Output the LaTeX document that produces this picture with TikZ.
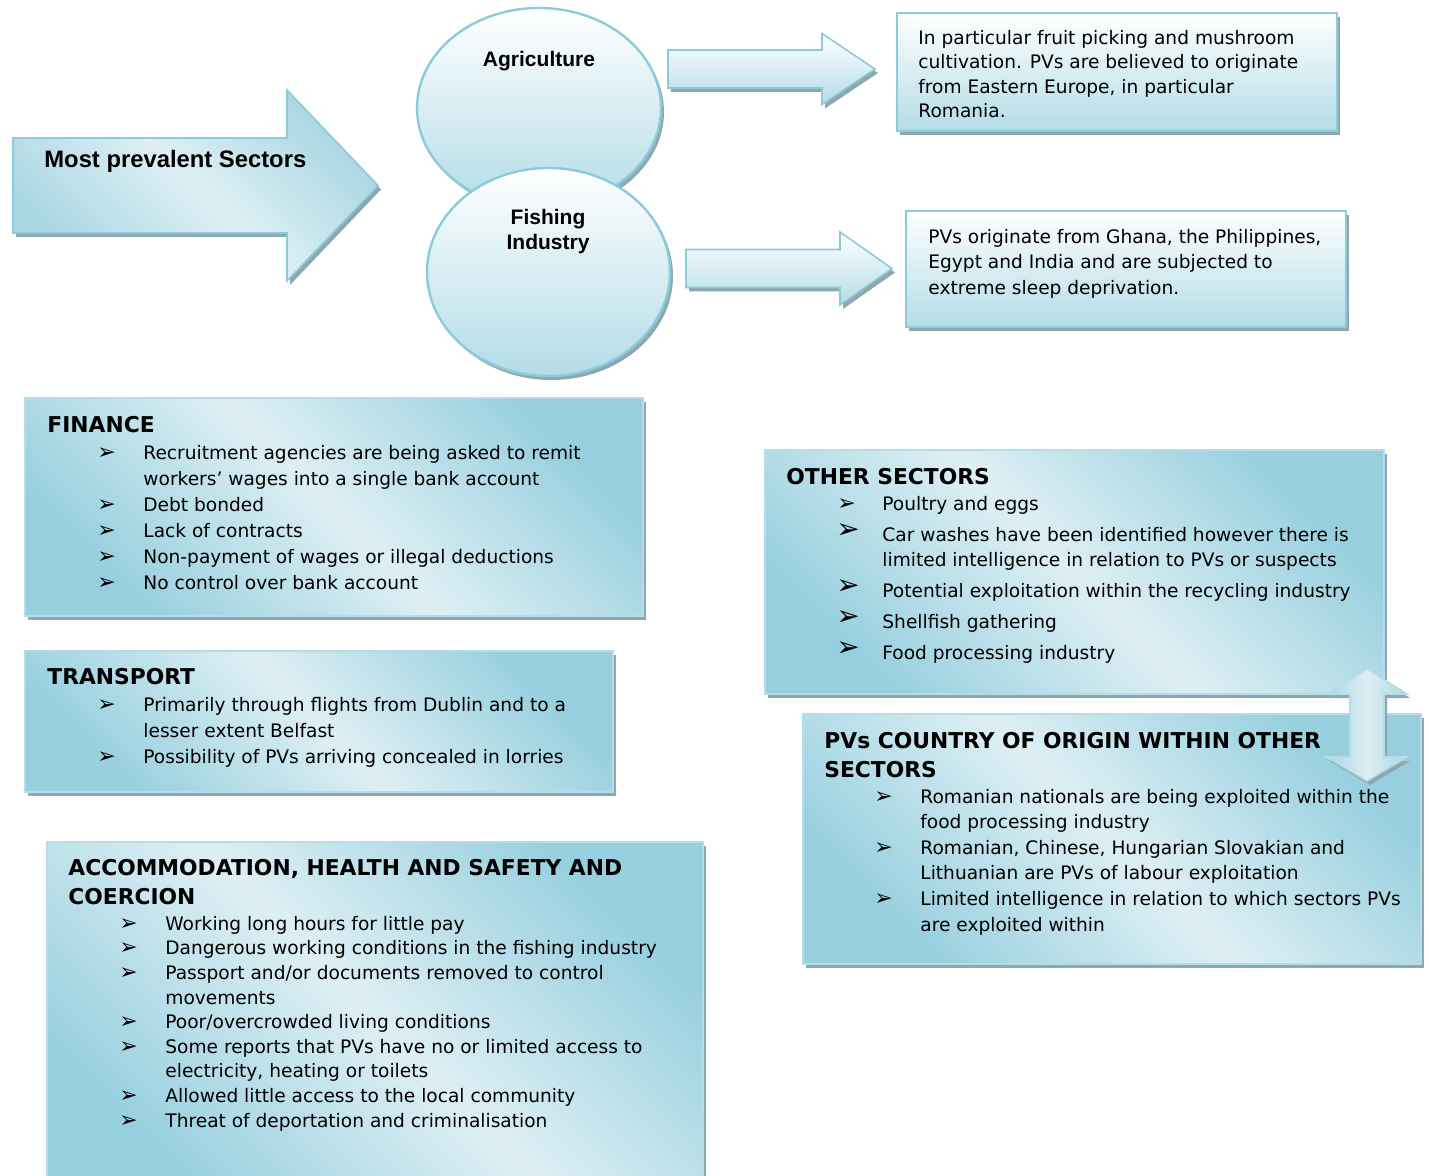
\documentclass[tikz,border=0pt]{standalone}
\usepackage{fontspec}
\setmainfont{DejaVu Sans}
\newfontfamily\arrfont{Liberation Sans}
\usetikzlibrary{shapes.geometric,shadows,fit}

\definecolor{pdark}{HTML}{97CFDE}
\definecolor{plight}{HTML}{DEEFF4}
\definecolor{pedge}{HTML}{B5DDE8}
\definecolor{sgrey}{HTML}{8FA8B0}
\definecolor{bblue}{HTML}{B3DCE7}
\definecolor{eedge}{HTML}{8CCBDA}
\definecolor{adark}{HTML}{A8D6E2}

\tikzset{
  shd/.style={drop shadow={shadow xshift=1.5pt,shadow yshift=-2pt,fill=sgrey,opacity=1}},
  panel/.style={shd,draw=pedge,line width=1.2pt,inner sep=0pt,top color=pdark,bottom color=pdark,middle color=plight,shading angle=135},
  topbox/.style={shd,draw=eedge,line width=1.2pt,inner sep=0pt,top color=white,bottom color=bblue},
  bubble/.style={ellipse,shd,draw=eedge,line width=1.2pt,top color=white,bottom color=bblue},
  blockarr/.style={shd,draw=eedge,line width=0.8pt,top color=white,bottom color=bblue},
  bigarr/.style={shd,draw=eedge,line width=0.8pt,top color=adark,bottom color=adark,middle color=plight,shading angle=135},
  dblarr/.style={shd,draw=pedge,line width=0.8pt,left color=adark,right color=adark,middle color=plight},
  bt/.style={anchor=mid west,inner sep=0pt,yshift=-1pt,font=\fontsize{9.3}{12}\selectfont},
  hd/.style={anchor=mid west,inner sep=0pt,yshift=-1pt,font=\fontsize{10.9}{14}\selectfont\bfseries},
  bu/.style={anchor=mid west,inner sep=0pt,yshift=-1pt,font=\fontsize{11}{12}\selectfont},
  bubig/.style={bu,font=\fontsize{14}{14}\selectfont},
  arrtxt/.style={inner sep=0pt,yshift=-1.3pt,font=\arrfont\bfseries\fontsize{11.9}{14}\selectfont},
}

\begin{document}
\begin{tikzpicture}[x=0.5pt,y=-0.5pt]
\useasboundingbox (0,0) rectangle (1429,1176);
% big arrow
\path[bigarr] (13,138) -- (287,138) -- (287,90) -- (378,185.5) -- (287,281) -- (287,233) -- (13,233) -- cycle;
\node[arrtxt,anchor=mid west] (most) at (44,159) {Most prevalent Sectors};
% sector bubbles
\node[bubble,minimum width=122pt,minimum height=100pt] (agri) at (539,108) {};
\node[bubble,minimum width=121.5pt,minimum height=104pt] (fish) at (548.5,272) {};
\node[arrtxt,font=\arrfont\bfseries\fontsize{10.5}{12.5}\selectfont] (agrilb) at (539,59) {Agriculture};
\node[arrtxt,font=\arrfont\bfseries\fontsize{10.5}{12.5}\selectfont,align=center] (fishlb) at (548,229) {Fishing\\Industry};
% small arrows
\foreach \ax/\ahx/\atx/\ay/\as/\ah in {668/822/875/69/19/35.5,686/840/892/268.5/19/36.5}{
  \path[blockarr] (\ax,\ay-\as) -- (\ahx,\ay-\as) -- (\ahx,\ay-\ah) -- (\atx,\ay) -- (\ahx,\ay+\ah) -- (\ahx,\ay+\as) -- (\ax,\ay+\as) -- cycle;
}
% detail boxes
\node[topbox,fit={(897,13)(1337,131)}] (agribox) {};
\foreach \ly/\lt [count=\i] in {37/{In particular fruit picking and mushroom},61/{cultivation. PVs are believed to originate},86/{from Eastern Europe, in particular},110/{Romania.}}{\node[bt] (agri\i) at (918,\ly) {\lt};}
\node[topbox,fit={(906,211)(1346,327)}] (fishbox) {};
\foreach \ly/\lt [count=\i] in {236/{PVs originate from Ghana, the Philippines,},261/{Egypt and India and are subjected to},287/{extreme sleep deprivation.}}{\node[bt] (fish\i) at (928,\ly) {\lt};}
% finance
\node[panel,fit={(25,398)(643,616)}] (fin) {};
\node[hd] (finhd) at (47,425) {FINANCE};
\foreach \ly/\lt [count=\i] in {452/{Recruitment agencies are being asked to remit},478/{workers’ wages into a single bank account},504/{Debt bonded},530/{Lack of contracts},556/{Non-payment of wages or illegal deductions},582/{No control over bank account}}{\node[bt] (fin\i) at (143,\ly) {\lt};}
\foreach \ly [count=\i] in {452,504,530,556,582}{\node[bu] (finb\i) at (97,\ly) {➢};}
% transport
\node[panel,fit={(25,651)(613,792)}] (trn) {};
\node[hd] (trnhd) at (47,677) {TRANSPORT};
\foreach \ly/\lt [count=\i] in {704/{Primarily through flights from Dublin and to a},730/{lesser extent Belfast},756/{Possibility of PVs arriving concealed in lorries}}{\node[bt] (trn\i) at (143,\ly) {\lt};}
\foreach \ly [count=\i] in {704,756}{\node[bu] (trnb\i) at (97,\ly) {➢};}
% accommodation
\node[panel,fit={(47,842)(703,1195)}] (acc) {};
\foreach \ly/\lt [count=\i] in {868/{ACCOMMODATION, HEALTH AND SAFETY AND},897/{COERCION}}{\node[hd] (acchd\i) at (68,\ly) {\lt};}
\foreach \ly/\lt [count=\i] in {923/{Working long hours for little pay},947/{Dangerous working conditions in the fishing industry},972/{Passport and/or documents removed to control},997/{movements},1021/{Poor/overcrowded living conditions},1046/{Some reports that PVs have no or limited access to},1070/{electricity, heating or toilets},1095/{Allowed little access to the local community},1120/{Threat of deportation and criminalisation}}{\node[bt] (acc\i) at (165,\ly) {\lt};}
\foreach \ly [count=\i] in {923,947,972,1021,1046,1095,1120}{\node[bu] (accb\i) at (119,\ly) {➢};}
% other sectors
\node[panel,fit={(765,450)(1384,694)}] (oth) {};
\node[hd] (othhd) at (786,477) {OTHER SECTORS};
\foreach \ly/\lt [count=\i] in {503/{Poultry and eggs},534/{Car washes have been identified however there is},559/{limited intelligence in relation to PVs or suspects},590/{Potential exploitation within the recycling industry},621/{Shellfish gathering},652/{Food processing industry}}{\node[bt] (oth\i) at (882,\ly) {\lt};}
\node[bu] (othb1) at (837,503) {➢};
\foreach \ly [count=\i] in {534,590,621,652}{\node[bubig] (othbb\i) at (836,\ly-3) {➢};}
% origin
\node[panel,fit={(803,714)(1421,964)}] (org) {};
\foreach \ly/\lt [count=\i] in {741/{PVs COUNTRY OF ORIGIN WITHIN OTHER},770/{SECTORS}}{\node[hd] (orghd\i) at (824,\ly) {\lt};}
\foreach \ly/\lt [count=\i] in {796/{Romanian nationals are being exploited within the},821/{food processing industry},847/{Romanian, Chinese, Hungarian Slovakian and},872/{Lithuanian are PVs of labour exploitation},898/{Limited intelligence in relation to which sectors PVs},924/{are exploited within}}{\node[bt] (org\i) at (920,\ly) {\lt};}
\foreach \ly [count=\i] in {796,847,898}{\node[bu] (orgb\i) at (874,\ly) {➢};}
% link between the two
\path[dblarr] (1367,669) -- (1407,694) -- (1384,694) -- (1384,757) -- (1407,757) -- (1367,781) -- (1327,757) -- (1350,757) -- (1350,694) -- (1327,694) -- cycle;
\end{tikzpicture}
\end{document}
